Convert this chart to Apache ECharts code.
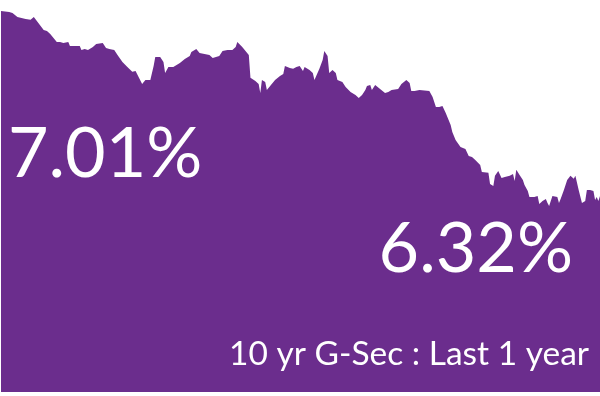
<!DOCTYPE html>
<html>
<head>
<meta charset="utf-8">
<script src="https://cdn.jsdelivr.net/npm/echarts@6/dist/echarts.min.js"></script>
<style>html,body{margin:0;padding:0;background:#fff}#c{width:600px;height:396px}</style>
</head>
<body>
<div id="c"></div>
<script>
// Day of the year (0..365) and 10-yr G-Sec yield (%)
var days = [0,5,7,10,15,18,20,21,26,28,30,34,36,38,41,42,48,49,51,53,56,58,62,64,66,69,71,74,77,80,82,83,86,88,91,93,94,97,99,100,102,105,106,109,112,115,116,119,121,124,127,129,130,133,135,138,141,143,144,147,149,150,151,152,155,157,158,159,161,162,164,167,170,172,173,176,178,180,181,182,184,185,188,190,191,194,196,197,199,200,202,204,205,208,210,213,216,218,220,222,223,225,226,228,231,234,236,238,242,244,247,249,250,252,255,261,263,265,267,269,271,274,275,277,280,283,284,285,287,289,292,293,297,298,300,301,303,304,305,307,310,312,313,314,316,318,319,321,322,323,325,327,328,330,332,333,334,336,339,340,341,343,345,347,349,350,352,354,356,357,359,361,362,363,364,365];
var yields = [7.010,7.006,7.002,6.988,6.980,6.977,6.988,6.991,6.940,6.936,6.925,6.896,6.896,6.892,6.896,6.881,6.881,6.866,6.870,6.866,6.877,6.888,6.892,6.874,6.870,6.866,6.848,6.822,6.804,6.786,6.789,6.786,6.741,6.756,6.756,6.808,6.841,6.841,6.822,6.782,6.804,6.804,6.797,6.819,6.833,6.844,6.859,6.870,6.855,6.852,6.848,6.837,6.833,6.844,6.863,6.866,6.866,6.877,6.896,6.877,6.863,6.870,6.848,6.764,6.752,6.741,6.708,6.756,6.749,6.719,6.734,6.756,6.771,6.778,6.808,6.800,6.797,6.804,6.811,6.808,6.789,6.804,6.793,6.782,6.756,6.797,6.830,6.863,6.844,6.782,6.793,6.782,6.756,6.749,6.730,6.712,6.701,6.690,6.701,6.719,6.734,6.738,6.719,6.738,6.723,6.708,6.712,6.719,6.723,6.741,6.756,6.745,6.716,6.716,6.719,6.716,6.694,6.657,6.657,6.661,6.635,6.591,6.565,6.536,6.510,6.503,6.506,6.477,6.473,6.462,6.444,6.418,6.415,6.374,6.367,6.404,6.422,6.429,6.396,6.400,6.404,6.411,6.385,6.426,6.407,6.389,6.370,6.348,6.326,6.323,6.326,6.330,6.301,6.312,6.319,6.304,6.293,6.330,6.326,6.304,6.319,6.352,6.389,6.404,6.393,6.404,6.352,6.304,6.312,6.352,6.352,6.348,6.315,6.326,6.312,6.330];
var startLabel = '7.01%';
var endLabel = '6.32%';
var caption = '10 yr G-Sec : Last 1 year';

var purple = '#6B2D8D';
var pts = days.map(function (d, i) { return [d, yields[i]]; });

var chart = echarts.init(document.getElementById('c'), null, { renderer: 'canvas' });
chart.setOption({
  animation: false,
  backgroundColor: '#ffffff',
  grid: { left: 1, right: 0, top: 0, bottom: 4 },
  xAxis: { type: 'value', min: 0, max: 365, show: false },
  yAxis: { type: 'value', min: 5.61, max: 7.05, show: false },
  series: [{
    type: 'line',
    data: pts,
    symbol: 'none',
    lineStyle: { width: 0 },
    itemStyle: { color: purple },
    areaStyle: { color: purple, opacity: 1, origin: 'start' }
  }],
  graphic: {
    elements: [
      { type: 'text', x: 8, y: 119, z: 100, style: { text: startLabel, fill: '#ffffff', fontFamily: 'Lato', fontSize: 70, fontWeight: 400, textAlign: 'left', verticalAlign: 'top' } },
      { type: 'text', x: 573, y: 214, z: 100, style: { text: endLabel, fill: '#ffffff', fontFamily: 'Lato', fontSize: 70, fontWeight: 400, textAlign: 'right', verticalAlign: 'top' } },
      { type: 'text', x: 589, y: 337, z: 100, style: { text: caption, fill: '#ffffff', fontFamily: 'Lato', fontSize: 33.5, fontWeight: 400, textAlign: 'right', verticalAlign: 'top' } }
    ]
  }
});
</script>
</body>
</html>
